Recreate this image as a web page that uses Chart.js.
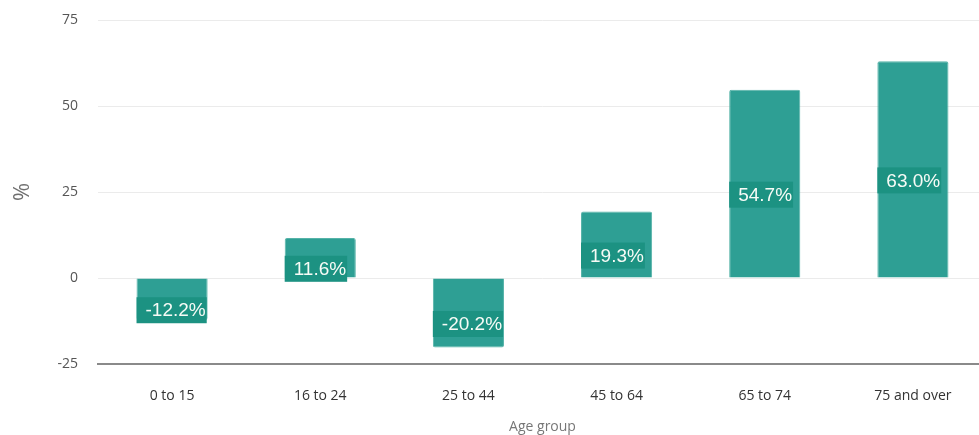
<!DOCTYPE html>
<html>
<head>
<meta charset="utf-8">
<script src="https://cdn.jsdelivr.net/npm/chart.js@4/dist/chart.umd.min.js"></script>
<style>
  html, body { margin: 0; padding: 0; background: #fff; overflow: hidden; }
  #wrap { width: 987px; height: 435px; }
</style>
</head>
<body>
<div id="wrap"><canvas id="chart-age"></canvas></div>
<script>
(() => {
  const ageGroups = ['0 to 15', '16 to 24', '25 to 44', '45 to 64', '65 to 74', '75 and over'];
  const changePct = [-12.2, 11.6, -20.2, 19.3, 54.7, 63.0];
  const yTicks = [-25, 0, 25, 50, 75];

  const BAR = '#2e9f94';
  const LABEL_BG = '#1c9282';

  // value boxes drawn over each bar, a little below its middle
  const valueBoxes = {
    id: 'valueBoxes',
    afterDatasetsDraw(chart) {
      const { ctx } = chart;
      const meta = chart.getDatasetMeta(0);
      ctx.save();
      ctx.font = '19px "Liberation Sans", Arial, sans-serif';
      ctx.textBaseline = 'middle';
      ctx.textAlign = 'left';
      meta.data.forEach((bar, i) => {
        const p = bar.getProps(['x', 'y', 'base', 'width'], true);
        const txt = changePct[i].toFixed(1) + '%';
        const tw = ctx.measureText(txt).width;
        const left = p.x - p.width / 2;
        const cy = (p.y + p.base) / 2 + 11;
        ctx.fillStyle = LABEL_BG;
        ctx.fillRect(left, cy - 13, tw + 10, 26);
        ctx.fillStyle = '#f7fbf6';
        ctx.fillText(txt, left + 9, cy + 1);
      });
      ctx.restore();
    }
  };

  new Chart(document.getElementById('chart-age'), {
    type: 'bar',
    data: {
      labels: ageGroups,
      datasets: [{
        data: changePct,
        backgroundColor: BAR,
        borderColor: '#55b3a8',
        borderWidth: 1,
        borderRadius: 2,
        borderSkipped: 'start',
        barPercentage: 0.48,
        categoryPercentage: 1
      }]
    },
    options: {
      responsive: true,
      maintainAspectRatio: false,
      animation: false,
      layout: { padding: { top: 20, right: 0, left: 0, bottom: 0 } },
      plugins: {
        legend: { display: false },
        tooltip: { enabled: false }
      },
      scales: {
        x: {
          afterFit: (scale) => { scale.height = 71; },
          grid: { display: false, drawTicks: false },
          border: { display: true, color: '#8a8a8a', width: 2 },
          ticks: {
            color: '#333',
            padding: 24,
            font: { family: '"Open Sans", sans-serif', size: 14 }
          },
          title: {
            display: true,
            text: 'Age group',
            color: '#777',
            padding: { top: 4, bottom: 0 },
            font: { family: '"Open Sans", sans-serif', size: 14 }
          }
        },
        y: {
          min: -25,
          max: 75,
          afterBuildTicks: (scale) => { scale.ticks = yTicks.map(v => ({ value: v })); },
          afterFit: (scale) => {
            scale.width = 98;
            scale.paddingTop = 0;
            scale.paddingBottom = 0;
          },
          grid: { color: '#ebebeb', drawTicks: false },
          border: { display: false },
          ticks: {
            color: '#555',
            padding: 20,
            font: { family: '"Open Sans", sans-serif', size: 14 }
          },
          title: {
            display: true,
            text: '%',
            color: '#6f6f6f',
            padding: { top: 10, bottom: 0 },
            font: { family: '"Open Sans", sans-serif', size: 22 }
          }
        }
      }
    },
    plugins: [valueBoxes]
  });
})();
</script>
</body>
</html>
